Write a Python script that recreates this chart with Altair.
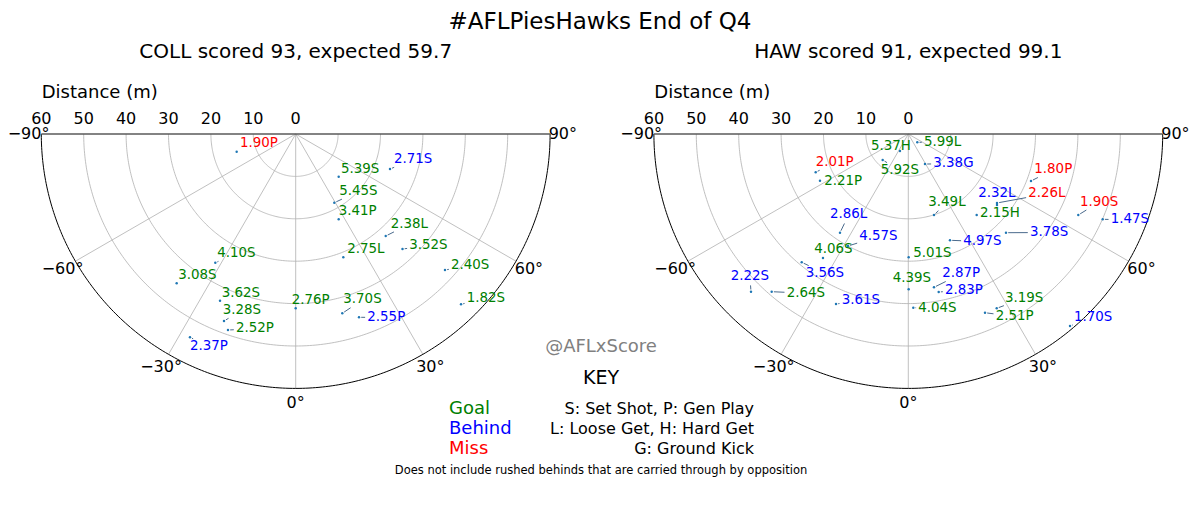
import altair as alt
import pandas as pd
import numpy as np

# ---------------- data (metres; x lateral, y = -depth from goal line centre) ----------------
coll_label = ["1.90P", "5.39S", "2.71S", "5.45S", "3.41P", "2.38L", "3.52S", "2.75L", "4.10S", "3.08S",
              "3.62S", "3.28S", "2.52P", "2.37P", "2.76P", "3.70S", "2.55P", "2.40S", "1.82S"]
coll_result = ["Miss", "Goal", "Behind", "Goal", "Goal", "Goal", "Goal", "Goal", "Goal", "Goal",
               "Goal", "Goal", "Goal", "Behind", "Goal", "Goal", "Behind", "Goal", "Goal"]
coll_x = [-13.92, 10.14, 22.24, 9.10, 10.14, 21.23, 25.19, 11.23, -18.96, -28.07,
          -17.85, -16.91, -15.97, -24.93, 0.0, 10.99, 14.93, 35.21, 38.99]
coll_y = [-4.17, -10.07, -8.25, -16.20, -20.12, -24.06, -27.12, -29.08, -30.35, -35.21,
          -39.32, -44.10, -46.23, -47.95, -41.11, -42.29, -43.23, -32.08, -40.17]
coll_lx = [-13.14, 10.68, 23.18, 10.28, 10.14, 22.41, 26.79, 12.17, -18.49, -27.69,
           -17.45, -17.22, -14.08, -24.93, -0.94, 11.23, 16.89, 36.63, 40.33]
coll_ly = [-3.14, -9.27, -6.91, -14.39, -19.10, -22.10, -27.19, -28.14, -29.08, -34.20,
           -38.37, -42.45, -46.77, -50.94, -40.09, -39.93, -44.10, -31.84, -39.55]

haw_label = ["5.37H", "5.92S", "5.99L", "3.38G", "2.01P", "2.21P", "2.86L", "4.57S", "4.06S", "3.56S",
             "2.22S", "2.64S", "3.61S", "5.01S", "4.39S", "4.04S", "2.87P", "2.83P", "3.49L", "2.32L",
             "2.15H", "2.26L", "1.80P", "1.90S", "1.47S", "4.97S", "3.78S", "3.19S", "2.51P", "1.70S"]
haw_result = ["Goal", "Goal", "Goal", "Behind", "Miss", "Goal", "Behind", "Behind", "Goal", "Behind",
              "Behind", "Goal", "Behind", "Goal", "Goal", "Goal", "Behind", "Behind", "Goal", "Behind",
              "Goal", "Miss", "Miss", "Miss", "Behind", "Behind", "Behind", "Goal", "Goal", "Behind"]
haw_x = [-1.96, -6.04, 2.12, 3.94, -21.84, -20.83, -16.11, -14.22, -20.12, -25.14,
         -37.10, -32.22, -17.05, 0.09, 0.09, 1.18, 6.06, 7.17, 6.06, 20.92,
         16.13, 20.92, 28.94, 40.09, 45.85, 9.83, 23.04, 20.85, 18.09, 38.14]
haw_y = [-4.01, -6.13, -1.96, -7.08, -9.03, -11.01, -23.28, -26.42, -29.25, -30.26,
         -37.19, -37.19, -40.09, -29.08, -36.63, -40.97, -36.16, -37.26, -19.10, -16.75,
         -19.10, -16.27, -11.08, -19.10, -20.12, -25.07, -23.28, -41.11, -42.15, -45.28]
haw_lx = [-8.80, -6.51, 3.70, 5.90, -21.84, -19.81, -18.47, -11.56, -22.17, -24.20,
          -41.89, -28.68, -15.71, 1.18, -3.68, 2.36, 8.02, 8.66, 4.72, 16.51,
          16.91, 28.30, 29.72, 40.50, 47.74, 12.97, 28.70, 22.81, 20.61, 39.08]
haw_ly = [-3.77, -9.43, -2.76, -7.85, -7.55, -12.03, -19.88, -25.00, -28.14, -33.66,
          -34.43, -38.37, -40.17, -29.08, -34.98, -41.91, -33.80, -37.74, -16.98, -14.93,
          -19.50, -14.93, -9.27, -16.91, -21.06, -26.18, -24.06, -39.55, -43.87, -44.10]

team_titles = ["COLL scored 93, expected 59.7", "HAW scored 91, expected 99.1"]
ring_dist = [10, 20, 30, 40, 50, 60]
spoke_deg = [-60, -30, 0, 30, 60]
theta_ticks = [-90, -60, -30, 0, 30, 60, 90]
dist_ticks = [60, 50, 40, 30, 20, 10, 0]
outcomes = ["Goal", "Behind", "Miss"]
outcome_colors = ["green", "blue", "red"]

# ---------------- layout ----------------
K = 4.24                 # pixels per metre
W, H = 1184, 508
CX, CY = 287.7, 126.0    # left panel origin (chart pixels)
SHIFT = 612.6 / K        # right panel origin offset in metres
XDOM = [-CX / K, (W - CX) / K]
YDOM = [-(H - CY) / K, CY / K]
FONT = "DejaVu Sans"
FS = 13.4
offsets = [0.0, SHIFT]


def xs(field):
    return alt.X(field, type="quantitative", scale=alt.Scale(domain=XDOM, nice=False, zero=False), axis=None)


def ys(field):
    return alt.Y(field, type="quantitative", scale=alt.Scale(domain=YDOM, nice=False, zero=False), axis=None)


# ---------------- polar frame ----------------
rows = []
for p, off in enumerate(offsets):
    th = np.radians(np.linspace(-90, 90, 241))
    for r in ring_dist:
        kind = "outer" if r == 60 else "grid"
        for i, t in enumerate(th):
            rows.append(dict(g=f"{p}r{r}", kind=kind, o=i, x=off + r * np.sin(t), y=-r * np.cos(t)))
    for s in spoke_deg:
        t = np.radians(s)
        for i, r in enumerate([0, 60]):
            rows.append(dict(g=f"{p}s{s}", kind="grid", o=i, x=off + r * np.sin(t), y=-r * np.cos(t)))
    for i, xx in enumerate([-60, 60]):
        rows.append(dict(g=f"{p}edge", kind="edge", o=i, x=off + xx, y=0.0))
frame = pd.DataFrame(rows)


def frame_layer(kind, color, width):
    return alt.Chart(frame[frame.kind == kind]).mark_line(color=color, strokeWidth=width).encode(
        x=xs("x"), y=ys("y"), detail="g:N", order="o:Q")


# ---------------- shots ----------------
CW = {'0': .636, '1': .636, '2': .636, '3': .636, '4': .636, '5': .636, '6': .636, '7': .636,
      '8': .636, '9': .636, '.': .318, 'S': .635, 'P': .603, 'L': .557, 'H': .752, 'G': .775}

shot_rows, seg_rows = [], []
teams = [(coll_label, coll_result, coll_x, coll_y, coll_lx, coll_ly),
         (haw_label, haw_result, haw_x, haw_y, haw_lx, haw_ly)]
for p, (lab, res, px_, py_, lx_, ly_) in enumerate(teams):
    off = offsets[p]
    for l, r, px, py, lx, ly in zip(lab, res, px_, py_, lx_, ly_):
        shot_rows.append(dict(label=l, result=r, x=px + off, y=py, lx=lx + off, ly=ly))
        # connector: from shot to text bounding box, clipped and shrunk
        fs = FS / K
        w = sum(CW[c] for c in l) * fs
        x0, x1 = lx, lx + w
        y0, y1 = ly - 0.24 * fs, ly + 0.76 * fs
        if x0 <= px <= x1 and y0 <= py <= y1:
            continue
        dx, dy = (x0 + x1) / 2 - px, (y0 + y1) / 2 - py
        u1, u2 = 0.0, 1.0
        for pk, qk in [(-dx, px - x0), (dx, x1 - px), (-dy, py - y0), (dy, y1 - py)]:
            if pk == 0:
                continue
            t = qk / pk
            if pk < 0:
                u1 = max(u1, t)
            else:
                u2 = min(u2, t)
        ex, ey = px + u1 * dx, py + u1 * dy
        L = np.hypot(ex - px, ey - py)
        sh = 2.2 / K
        if L <= 2 * sh + 0.3 / K:
            continue
        ux, uy = (ex - px) / L, (ey - py) / L
        seg_rows.append(dict(x=px + ux * sh + off, y=py + uy * sh,
                             x2=ex - ux * sh + off, y2=ey - uy * sh))
shots = pd.DataFrame(shot_rows)
segs = pd.DataFrame(seg_rows)

segments = alt.Chart(segs).mark_rule(color="#4a6a8c", strokeWidth=1).encode(
    x=xs("x"), y=ys("y"), x2="x2:Q", y2="y2:Q")
points = alt.Chart(shots).mark_circle(size=6, opacity=1, color="#1f77b4").encode(x=xs("x"), y=ys("y"))
labels = alt.Chart(shots).mark_text(align="left", baseline="alphabetic", font=FONT, fontSize=FS).encode(
    x=xs("lx"), y=ys("ly"), text="label:N",
    color=alt.Color("result:N", scale=alt.Scale(domain=outcomes, range=outcome_colors), legend=None))

# ---------------- axis texts ----------------
trows = []
for off in offsets:
    for d in theta_ticks:
        t = np.radians(d)
        rr = 63.0 if abs(d) == 90 else 63.5
        trows.append(dict(x=off + rr * np.sin(t), y=-rr * np.cos(t),
                          text=f"{d}°".replace("-", "\u2212")))
theta_df = pd.DataFrame(trows)
theta_lab = alt.Chart(theta_df).mark_text(font=FONT, fontSize=16, baseline="middle", align="center",
                                          color="black").encode(x=xs("x"), y=ys("y"), text="text:N")

drows = []
for off in offsets:
    for d in dist_ticks:
        drows.append(dict(x=off - d, y=3.49, text=str(d)))
dist_df = pd.DataFrame(drows)
dist_lab = alt.Chart(dist_df).mark_text(font=FONT, fontSize=16, baseline="middle", align="center",
                                        color="black").encode(x=xs("x"), y=ys("y"), text="text:N")

dtitle_df = pd.DataFrame([dict(x=off - 59.9, y=9.67, text="Distance (m)") for off in offsets])
dist_title = alt.Chart(dtitle_df).mark_text(font=FONT, fontSize=18, baseline="middle", align="left",
                                            color="black").encode(x=xs("x"), y=ys("y"), text="text:N")

sub_df = pd.DataFrame([dict(x=off, y=(126 - 44) / K, text=t) for off, t in zip(offsets, team_titles)])
subtitles = alt.Chart(sub_df).mark_text(font=FONT, fontSize=20, baseline="middle", align="center",
                                        color="black").encode(x=xs("x"), y=ys("y"), text="text:N")


def fig_text(text, x, y, size, align="center", color="black"):
    return alt.Chart(pd.DataFrame({"t": [text]})).mark_text(
        font=FONT, fontSize=size, align=align, baseline="middle", color=color).encode(
        x=alt.value(x), y=alt.value(y), text="t:N")


fig_texts = [
    fig_text("#AFLPiesHawks End of Q4", 592, 14, 23),
    fig_text("@AFLxScore", 593, 339, 18, color="#808080"),
    fig_text("KEY", 593, 370, 19),
    fig_text("Goal", 441, 401, 18, align="left", color="green"),
    fig_text("Behind", 441, 421, 18, align="left", color="blue"),
    fig_text("Miss", 441, 441, 18, align="left", color="red"),
    fig_text("S: Set Shot, P: Gen Play", 746, 401, 16, align="right"),
    fig_text("L: Loose Get, H: Hard Get", 746, 421, 16, align="right"),
    fig_text("G: Ground Kick", 746, 441, 16, align="right"),
    fig_text("Does not include rushed behinds that are carried through by opposition", 593, 463, 11.5),
]

chart = alt.layer(
    frame_layer("grid", "#b0b0b0", 0.8),
    frame_layer("outer", "black", 1.0),
    frame_layer("edge", "#5a5a5a", 1.6),
    segments, points, labels, theta_lab, dist_lab, dist_title, subtitles,
    *fig_texts,
).properties(
    width=W, height=H, padding=0, autosize=alt.AutoSizeParams(type="none"), background="white"
).configure_view(stroke=None)

chart.save("out.html", embed_options={"renderer": "svg", "actions": False})
